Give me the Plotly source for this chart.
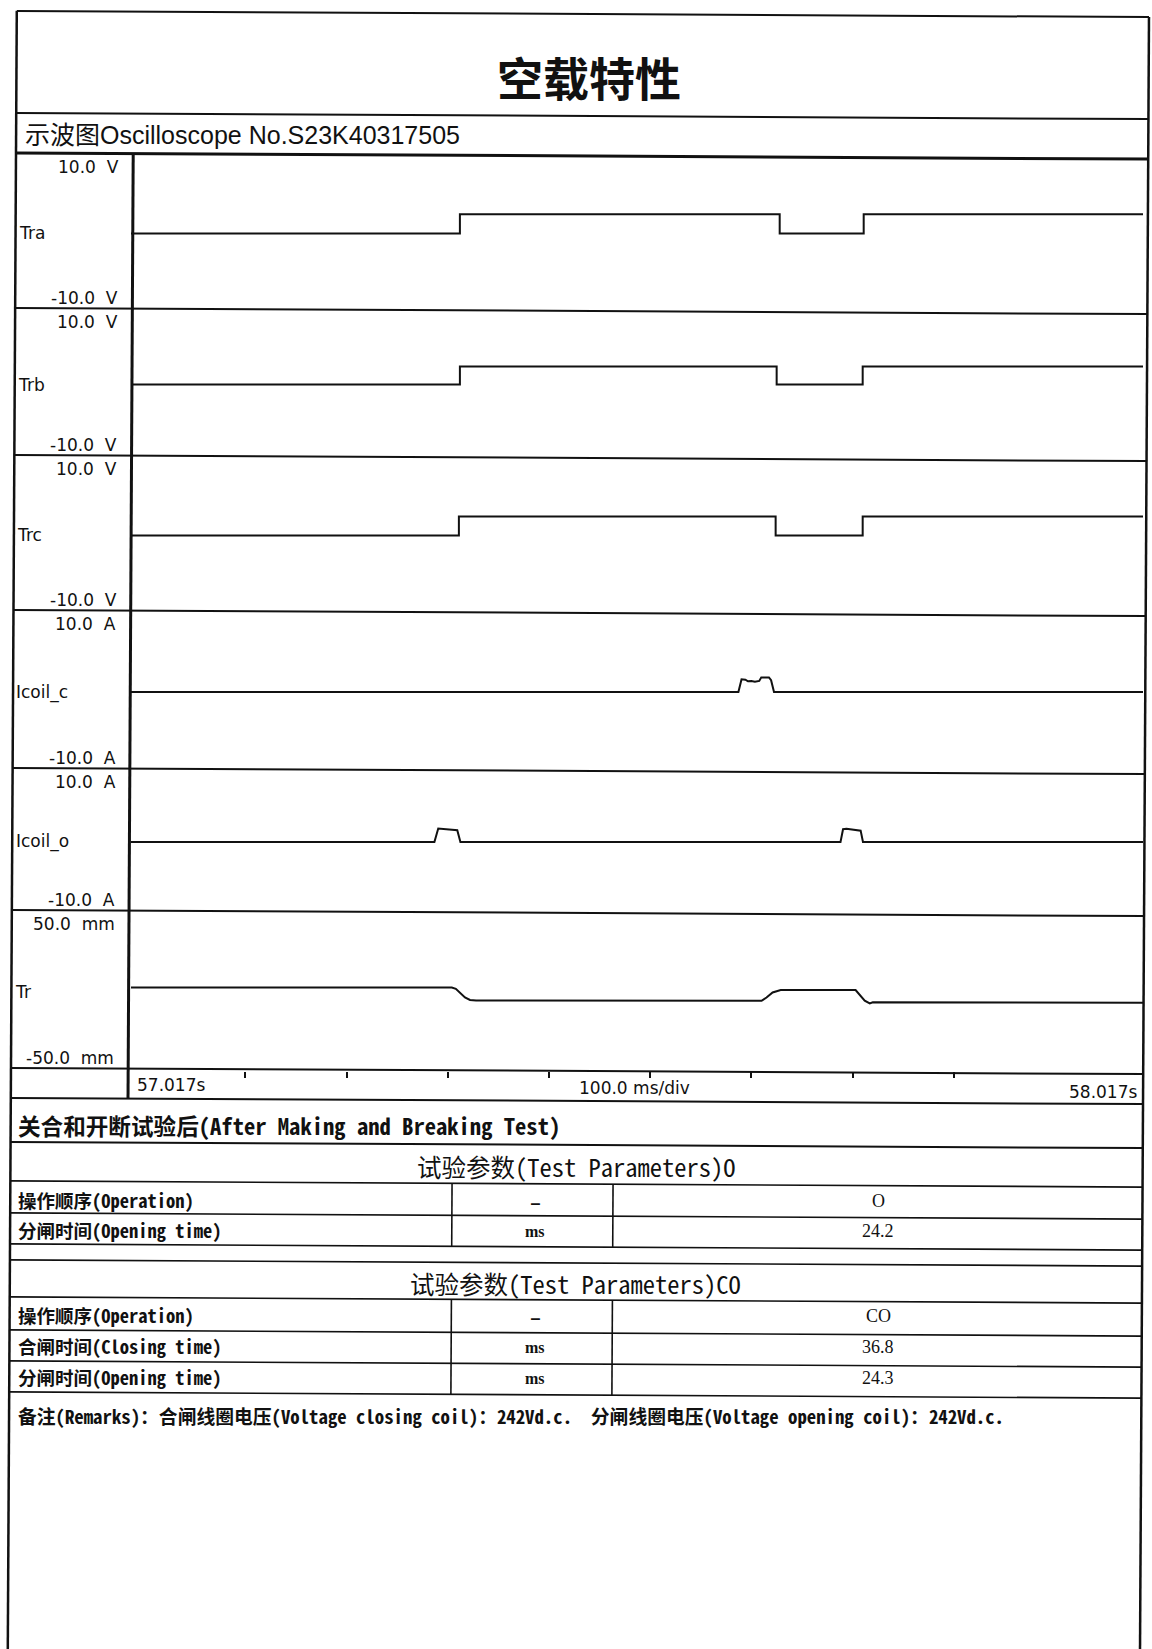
import plotly.graph_objects as go

# ---------------- data ----------------
T_START, T_END = 57.017, 58.017
TICK_TIMES = [57.13, 57.23, 57.33, 57.43, 57.53, 57.63, 57.73, 57.83]

CHANNELS = ["Tra", "Trb", "Trc", "Icoil_c", "Icoil_o", "Tr"]
RANGE_TOP = ["10.0  V", "10.0  V", "10.0  V", "10.0  A", "10.0  A", "50.0  mm"]
RANGE_BOTTOM = ["-10.0  V", "-10.0  V", "-10.0  V", "-10.0  A", "-10.0  A", "-50.0  mm"]
Y_LIMITS = [10, 10, 10, 10, 10, 50]

# auxiliary contact signals (V), step breakpoints
tra_t = [57.017, 57.342, 57.658, 57.741, 58.017]
tra_v = [0.0, 2.5, 0.0, 2.5, 2.5]
trb_t = [57.017, 57.342, 57.655, 57.740, 58.017]
trb_v = [0.0, 2.45, 0.0, 2.45, 2.45]
trc_t = [57.017, 57.341, 57.654, 57.740, 58.017]
trc_v = [0.0, 2.45, 0.0, 2.45, 2.45]

# closing coil current (A)
icc_t = [57.017, 57.6172, 57.6203, 57.6241, 57.6266, 57.6300, 57.6335, 57.6378,
         57.6398, 57.6474, 57.6495, 57.6524, 58.017]
icc_v = [0.0, 0.0, 1.6, 1.55, 1.35, 1.4, 1.3, 1.4, 1.85, 1.85, 1.5, 0.0, 0.0]

# opening coil current (A)
ico_t = [57.017, 57.3168, 57.3206, 57.3263, 57.3394, 57.3425,
         57.7181, 57.7206, 57.7240, 57.7380, 57.7403, 58.017]
ico_v = [0.0, 0.0, 1.9, 1.85, 1.65, 0.0,
         0.0, 1.8, 1.85, 1.6, 0.0, 0.0]

# travel (mm)
tr_t = [57.017, 57.334, 57.338, 57.342, 57.347, 57.352, 57.358, 57.640, 57.645,
        57.651, 57.659, 57.733, 57.737, 57.742, 57.747, 57.750, 58.017]
tr_v = [2.9, 2.8, 2.0, -0.5, -3.5, -5.0, -5.4, -5.6, -3.5,
        -0.3, 1.3, 1.2, -1.5, -5.5, -7.2, -6.5, -6.8]

SERIES = [(tra_t, tra_v, "hv"), (trb_t, trb_v, "hv"), (trc_t, trc_v, "hv"),
          (icc_t, icc_v, "linear"), (ico_t, ico_v, "linear"), (tr_t, tr_v, "linear")]

TITLE = "空载特性"
SUBTITLE = "示波图Oscilloscope No.S23K40317505"
TIME_LEFT, TIME_DIV, TIME_RIGHT = "57.017s", "100.0 ms/div", "58.017s"

SECTION = "关合和开断试验后(After Making and Breaking Test)"
TABLE1_TITLE = "试验参数(Test Parameters)O"
TABLE1_ROWS = ["操作顺序(Operation)", "分闸时间(Opening time)"]
TABLE1_UNITS = ["–", "ms"]
TABLE1_VALUES = ["O", "24.2"]
TABLE2_TITLE = "试验参数(Test Parameters)CO"
TABLE2_ROWS = ["操作顺序(Operation)", "合闸时间(Closing time)", "分闸时间(Opening time)"]
TABLE2_UNITS = ["–", "ms", "ms"]
TABLE2_VALUES = ["CO", "36.8", "24.3"]
REMARKS = ("备注(Remarks)：合闸线圈电压(Voltage closing coil)：242Vd.c.  "
           "分闸线圈电压(Voltage opening coil)：242Vd.c.")

# ---------------- layout helpers ----------------
W, H = 1152, 1649
K = 0.0055  # scan skew


def tilt(x, y):
    return x - K * (y - 830), y + K * (x - 580)


def px(x):
    return x / W


def py(y):
    return 1 - y / H


shapes = []


def line(x0, y0, x1, y1, w=2):
    X0, Y0 = tilt(x0, y0)
    X1, Y1 = tilt(x1, y1)
    shapes.append(dict(type="line", xref="paper", yref="paper",
                       x0=px(X0), y0=py(Y0), x1=px(X1), y1=py(Y1),
                       line=dict(color="#111", width=w)))


L, R = 12.3, 1144.5
line(L, 14, R, 14, 2)
line(L, 14, L, 1700, 2.5)
line(R, 14, R, 1700, 2.5)
line(L, 116, R, 116, 2)
line(L, 156, R, 156, 3)
PANEL_EDGES = [156, 311, 458, 613, 771, 913, 1071]
for yy in PANEL_EDGES[1:]:
    line(L, yy, R, yy, 2)
line(129.5, 156, 129.5, 1101, 3)
for yy in [1101, 1145, 1184, 1216, 1247, 1263, 1300, 1333, 1364, 1395]:
    line(L, yy, R, yy, 2 if yy in (1101, 1145) else 1.6)
for xx in [454, 615]:
    line(xx, 1184, xx, 1247, 1.6)
    line(xx, 1300, xx, 1395, 1.6)

annotations = []


def text(s, x, y, size, anchor="left", family="DejaVu Sans", weight="normal", color="#111"):
    annotations.append(dict(text=s.replace("  ", "\u00a0\u00a0"), x=px(x), y=py(y),
                            xref="paper", yref="paper", xanchor=anchor, yanchor="middle",
                            showarrow=False,
                            font=dict(family=family, size=size, color=color, weight=weight)))


CJK_BOLD = "Noto Sans CJK SC"
MONO_CJK = "Noto Sans Mono CJK SC, Noto Sans CJK SC"

text(TITLE, 589, 76, 46, "center", CJK_BOLD, "bold")
text(SUBTITLE, 23, 135, 25, "left", "Liberation Sans, Noto Sans CJK SC")

for i, name in enumerate(CHANNELS):
    top, bot = PANEL_EDGES[i], PANEL_EDGES[i + 1]
    mid = (top + bot) / 2
    text(name, 17 - 0.0055 * (mid - 233), mid, 17)
    yt, yb = top + 11, bot - 13
    text(RANGE_TOP[i], 121 - 0.0055 * (yt - 166), yt, 17, "right")
    text(RANGE_BOTTOM[i], 121 - 0.0055 * (yb - 166), yb, 17, "right")

text(TIME_LEFT, 135, 1085, 17)
text(TIME_DIV, 634, 1088, 17, "center")
text(TIME_RIGHT, 1139, 1092, 17, "right")

text(SECTION, 16, 1125, 22.6, "left", MONO_CJK, "bold")
text(TABLE1_TITLE, 576, 1166, 24.5, "center", MONO_CJK)
for j, yy in enumerate([1200, 1230]):
    text(TABLE1_ROWS[j], 16, yy, 18.5, "left", MONO_CJK, "bold")
    unit_font = ("Noto Sans CJK SC", 20) if TABLE1_UNITS[j] == "–" else ("Liberation Serif", 16)
    text(TABLE1_UNITS[j], 535, yy + 1, unit_font[1], "center", unit_font[0], "bold")
    text(TABLE1_VALUES[j], 878, yy + 1, 18, "center", "Liberation Serif")
text(TABLE2_TITLE, 575, 1283, 24.5, "center", MONO_CJK)
for j, yy in enumerate([1315, 1346, 1377]):
    text(TABLE2_ROWS[j], 16, yy, 18.5, "left", MONO_CJK, "bold")
    unit_font = ("Noto Sans CJK SC", 20) if TABLE2_UNITS[j] == "–" else ("Liberation Serif", 16)
    text(TABLE2_UNITS[j], 535, yy + 1, unit_font[1], "center", unit_font[0], "bold")
    text(TABLE2_VALUES[j], 878, yy + 1, 18, "center", "Liberation Serif")
text(REMARKS, 16, 1415, 18.8, "left", MONO_CJK, "bold")

# ---------------- figure ----------------
fig = go.Figure()
for i, (t, v, shp) in enumerate(SERIES):
    fig.add_trace(go.Scatter(x=t, y=v, mode="lines", xaxis="x",
                             yaxis="y" if i == 0 else f"y{i + 1}",
                             line=dict(color="#111", width=2, shape=shp),
                             hoverinfo="skip", showlegend=False))

layout = dict(
    width=W, height=H, margin=dict(l=0, r=0, t=0, b=0),
    paper_bgcolor="white", plot_bgcolor="rgba(0,0,0,0)", showlegend=False,
    shapes=shapes, annotations=annotations,
    xaxis=dict(domain=[px(131), px(1143)], range=[T_START, T_END], anchor="y6",
               showgrid=False, zeroline=False, showline=False, showticklabels=False,
               ticks="outside", tickvals=TICK_TIMES, ticklen=6, tickwidth=2,
               tickcolor="#111"),
)
for i in range(6):
    top, bot = PANEL_EDGES[i], PANEL_EDGES[i + 1]
    key = "yaxis" if i == 0 else f"yaxis{i + 1}"
    layout[key] = dict(domain=[py(bot), py(top)], range=[-Y_LIMITS[i], Y_LIMITS[i]],
                       anchor="x", visible=False, fixedrange=True)
fig.update_layout(**layout)
fig.write_html("out.html", config={"displayModeBar": False})
